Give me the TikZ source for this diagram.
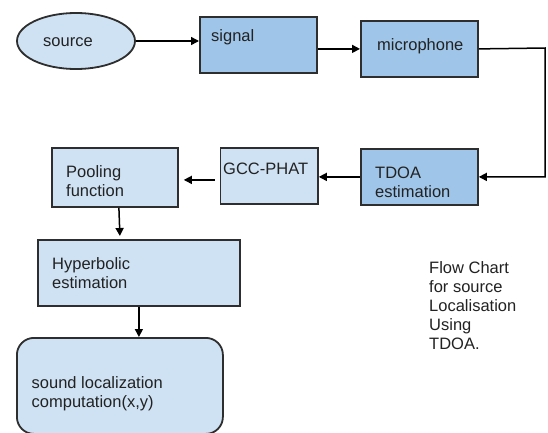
\documentclass[tikz,border=0pt]{standalone}
\usepackage{fontspec}
\setmainfont{Liberation Sans}
\usetikzlibrary{arrows.meta,shapes.geometric}
\definecolor{paleblue}{HTML}{CFE2F3}
\definecolor{midblue}{HTML}{9FC5E8}
\definecolor{edge}{HTML}{2E2E2E}
\definecolor{ink}{HTML}{222222}
\begin{document}
\begin{tikzpicture}[x=1pt,y=-1pt,
  box/.style={draw=edge,line width=1.8pt,inner sep=0pt,anchor=north west},
  pale/.style={box,fill=paleblue},
  deep/.style={box,fill=midblue},
  % multi-line labels sit on the baseline of their last line
  lbl/.style={anchor=base west,inner sep=0pt,align=left,text=ink,
    font=\fontsize{16.5}{19}\selectfont},
  arr/.style={draw=black,line width=1.5pt,-{Triangle[length=8pt,width=8pt]}}]
\path[use as bounding box,fill=white] (0,0) rectangle (548,432);
\clip (0,0) rectangle (548,432);

% blocks
\node[ellipse,draw=edge,line width=1.8pt,fill=paleblue,inner sep=0pt,
  minimum width=118pt,minimum height=56pt] (source) at (76,41) {};
\node[deep,minimum width=117pt,minimum height=56pt] (signal) at (199,16) {};
\node[deep,minimum width=117pt,minimum height=56pt] (mic) at (360,20) {};
\node[deep,minimum width=117pt,minimum height=56pt] (tdoa) at (360,148) {};
\node[pale,minimum width=97.5pt,minimum height=56pt] (gcc) at (219.5,147) {};
\node[pale,minimum width=126pt,minimum height=59pt] (pool) at (51,147) {};
\node[pale,minimum width=202pt,minimum height=66pt] (hyper) at (37,239) {};
\node[pale,rounded corners=17pt,minimum width=206pt,minimum height=96pt] (sound) at (16,337) {};

% labels
\node[lbl] (source-t) at (43,46) {source};
\node[lbl] (signal-t) at (211,41) {signal};
\node[lbl] (mic-t) at (377,50) {microphone};
\node[lbl] (tdoa-t) at (375,197) {TDOA\\estimation};
\node[lbl] (gcc-t) at (223,174) {GCC-PHAT};
\node[lbl] (pool-t) at (66,196) {Pooling\\function};
\node[lbl] (hyper-t) at (52,288) {Hyperbolic\\estimation};
\node[lbl] (sound-t) at (31.5,407) {sound localization\\computation(x,y)};
\node[lbl] (caption) at (429,349) {Flow Chart\\for source\\Localisation\\Using\\TDOA.};

% connectors
\coordinate (turn) at (545,48);
\draw[arr] (source.east) -- (source.east -| signal.west);
\draw[arr] (signal.east |- mic.west) -- (mic.west);
\draw[arr] (mic.east) -- (turn) |- (tdoa.east);
\draw[arr] (tdoa.west) -- (tdoa.west -| gcc.east);
\draw[arr] ([xshift=-5pt,yshift=-4pt]gcc.west) -- ([xshift=5pt,yshift=-2.5pt]pool.east);
\draw[arr] ([xshift=4pt]pool.south) -- ([xshift=-19pt,yshift=3pt]hyper.north);
\draw[arr] (hyper.south) -- (hyper.south |- sound.north);
\end{tikzpicture}
\end{document}
